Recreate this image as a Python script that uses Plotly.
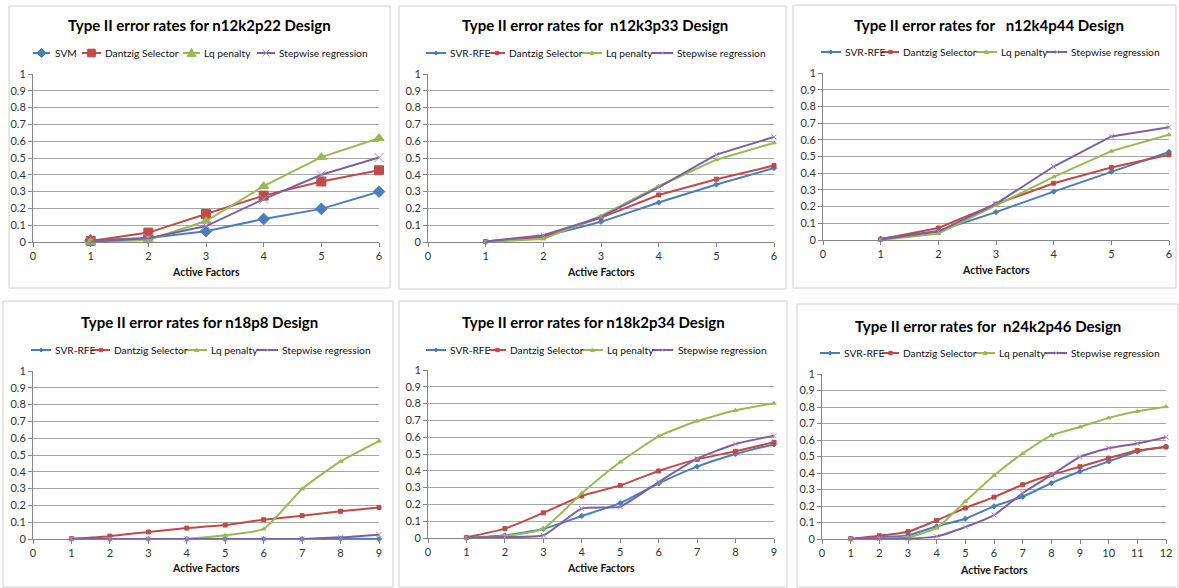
import plotly.graph_objects as go

W, H = 1179, 588
FONT = "Lato, Roboto, sans-serif"

methods_p1 = ["SVM", "Dantzig Selector", "Lq penalty", "Stepwise regression"]
methods = ["SVR-RFE", "Dantzig Selector", "Lq penalty", "Stepwise regression"]
colors = ["#4A7EBB", "#BE4B48", "#98B954", "#7D60A0"]
symbols = ["diamond", "square", "triangle-up", "x-thin"]

titles = [
    "Type II error rates for n12k2p22 Design",
    "Type II error rates for  n12k3p33 Design",
    "Type II error rates for   n12k4p44 Design",
    "Type II error rates for n18p8 Design",
    "Type II error rates for n18k2p34 Design",
    "Type II error rates for  n24k2p46 Design",
]

x6 = [1, 2, 3, 4, 5, 6]
x9 = [1, 2, 3, 4, 5, 6, 7, 8, 9]
x12 = [1, 2, 3, 4, 5, 6, 7, 8, 9, 10, 11, 12]

# Panel 1: n12k2p22
p1_svm = [0.01, 0.024, 0.064, 0.137, 0.197, 0.300]
p1_ds = [0.006, 0.056, 0.167, 0.276, 0.360, 0.427]
p1_lq = [0.0, 0.012, 0.125, 0.332, 0.505, 0.618]
p1_sw = [0.002, 0.022, 0.095, 0.255, 0.400, 0.503]

# Panel 2: n12k3p33
p2_svr = [0.002, 0.032, 0.120, 0.235, 0.342, 0.440]
p2_ds = [0.003, 0.030, 0.145, 0.280, 0.374, 0.455]
p2_lq = [0.0, 0.018, 0.155, 0.332, 0.490, 0.590]
p2_sw = [0.003, 0.040, 0.148, 0.325, 0.520, 0.625]

# Panel 3: n12k4p44
p3_svr = [0.008, 0.054, 0.167, 0.290, 0.408, 0.528]
p3_ds = [0.004, 0.072, 0.215, 0.340, 0.434, 0.510]
p3_lq = [0.0, 0.038, 0.207, 0.378, 0.532, 0.630]
p3_sw = [0.004, 0.050, 0.217, 0.440, 0.620, 0.675]

# Panel 4: n18p8
p4_svr = [0.0, 0.0, 0.0, 0.0, 0.0, 0.0, 0.0, 0.003, 0.0]
p4_ds = [0.002, 0.017, 0.042, 0.065, 0.083, 0.115, 0.139, 0.165, 0.188]
p4_lq = [0.0, 0.0, 0.0, 0.002, 0.022, 0.060, 0.298, 0.462, 0.583]
p4_sw = [0.0, 0.0, 0.0, 0.0, 0.0, 0.0, 0.0, 0.010, 0.026]

# Panel 5: n18k2p34
p5_svr = [0.0, 0.016, 0.054, 0.131, 0.208, 0.325, 0.425, 0.500, 0.557]
p5_ds = [0.004, 0.056, 0.150, 0.250, 0.313, 0.399, 0.468, 0.516, 0.570]
p5_lq = [0.0, 0.012, 0.056, 0.266, 0.452, 0.605, 0.696, 0.760, 0.802]
p5_sw = [0.003, 0.006, 0.016, 0.175, 0.187, 0.333, 0.472, 0.560, 0.609]

# Panel 6: n24k2p46
p6_svr = [0.0, 0.012, 0.022, 0.077, 0.123, 0.198, 0.256, 0.339, 0.409, 0.470, 0.530, 0.560]
p6_ds = [0.002, 0.020, 0.044, 0.113, 0.188, 0.254, 0.329, 0.389, 0.438, 0.490, 0.536, 0.558]
p6_lq = [0.0, 0.003, 0.010, 0.067, 0.228, 0.385, 0.518, 0.627, 0.679, 0.734, 0.774, 0.802]
p6_sw = [0.0, 0.002, 0.003, 0.016, 0.073, 0.145, 0.278, 0.387, 0.498, 0.550, 0.579, 0.617]

panels = [
    (x6, [p1_svm, p1_ds, p1_lq, p1_sw], methods_p1),
    (x6, [p2_svr, p2_ds, p2_lq, p2_sw], methods),
    (x6, [p3_svr, p3_ds, p3_lq, p3_sw], methods),
    (x9, [p4_svr, p4_ds, p4_lq, p4_sw], methods),
    (x9, [p5_svr, p5_ds, p5_lq, p5_sw], methods),
    (x12, [p6_svr, p6_ds, p6_lq, p6_sw], methods),
]

# ---- layout geometry (pixels) ----
plot_px = [
    (33, 379, 74, 242), (428, 774, 74, 242), (823, 1169, 73, 240),
    (33, 379, 371, 539), (428, 774, 370, 538), (822, 1166, 374, 539),
]
border_px = [
    (9, 390, 6, 288), (399, 786, 6, 289), (793, 1176, 5, 288),
    (3, 393, 301, 587), (399, 787, 301, 587), (797, 1178, 304, 587),
]
title_px = [(199, 25), (595, 25), (989, 25), (199, 322), (594, 322), (988, 326)]
xtitle_y = [272, 272, 270, 568, 568, 570]
smooth = [False, False, False, True, True, True]
# legend entries: (key start, key end, text start) per series, and row y
legend_px = [
    [(33, 50, 53), (82, 101, 103), (183, 200, 202), (257, 275, 277)],
    [(426, 446, 448), (489, 505, 507), (582, 602, 604), (652, 673, 675)],
    [(821, 841, 843), (882, 899, 901), (976, 997, 999), (1047, 1067, 1069)],
    [(31, 51, 53), (92, 110, 112), (186, 207, 209), (257, 278, 280)],
    [(426, 446, 448), (489, 506, 508), (582, 603, 605), (652, 673, 676)],
    [(820, 840, 842), (882, 899, 901), (975, 995, 997), (1045, 1067, 1069)],
]
legend_y = [53, 53, 52, 350, 350, 353]


def fx(px):
    return px / W


def fy(py):
    return 1 - py / H


def marker_path(sym, r):
    if sym == "diamond":
        return f"M{-r},0 L0,{r} L{r},0 L0,{-r} Z"
    if sym == "square":
        q = r * 0.85
        return f"M{-q},{-q} L{q},{-q} L{q},{q} L{-q},{q} Z"
    if sym == "triangle-up":
        return f"M{-r},{-r * 0.8} L{r},{-r * 0.8} L0,{r} Z"
    return f"M{-r * 0.8},{-r * 0.8} L{r * 0.8},{r * 0.8} M{-r * 0.8},{r * 0.8} L{r * 0.8},{-r * 0.8}"


fig = go.Figure()
shapes = []
annotations = []
layout = {}
axis_font = dict(family=FONT, size=11, color="#333333")

for i, (xs, series, names) in enumerate(panels):
    k = "" if i == 0 else str(i + 1)
    big = i == 0
    for j in range(4):
        mcol = colors[j] if j != 3 else "#A48FC4"
        fig.add_trace(go.Scatter(
            x=xs, y=series[j], name=names[j],
            xaxis="x" + k, yaxis="y" + k, showlegend=False,
            mode="lines+markers",
            line=dict(color=colors[j], width=2,
                      shape="spline" if smooth[i] else "linear",
                      smoothing=0.5),
            marker=dict(symbol=symbols[j],
                        size=9 if big else (4 if j != 3 else 5),
                        color=mcol, line=dict(color=mcol, width=1)),
            cliponaxis=False,
        ))
    x0, x1, yt, yb = plot_px[i]
    layout["xaxis" + k] = dict(
        domain=[fx(x0), fx(x1)], anchor="y" + k, range=[0, xs[-1]],
        tickmode="linear", tick0=0, dtick=1, showgrid=False,
        showline=True, linecolor="#868686", linewidth=1,
        ticks="outside", ticklen=4, tickcolor="#868686",
        tickfont=axis_font, zeroline=False, fixedrange=True, automargin=False,
    )
    layout["yaxis" + k] = dict(
        domain=[fy(yb), fy(yt)], anchor="x" + k, range=[0, 1],
        tickmode="linear", tick0=0, dtick=0.1,
        showgrid=True, gridcolor="#A6A6A6", gridwidth=1,
        showline=True, linecolor="#868686", linewidth=1,
        ticks="outside", ticklen=4, tickcolor="#868686",
        tickfont=axis_font, zeroline=False, fixedrange=True, automargin=False,
    )
    # panel border
    bx0, bx1, by0, by1 = border_px[i]
    shapes.append(dict(type="rect", xref="paper", yref="paper",
                       x0=fx(bx0), x1=fx(bx1), y0=fy(by1), y1=fy(by0),
                       line=dict(color="#D0D0D0", width=1), layer="below"))
    # legend row (one key line + marker + label per series)
    ly = legend_y[i]
    for j in range(4):
        kx0, kx1, tx = legend_px[i][j]
        mcol = colors[j] if j != 3 else "#A48FC4"
        shapes.append(dict(type="line", xref="paper", yref="paper",
                           x0=fx(kx0), x1=fx(kx1), y0=fy(ly), y1=fy(ly),
                           line=dict(color=colors[j], width=2)))
        r = 4.5 if big else 2
        shapes.append(dict(type="path", xref="paper", yref="paper",
                           xsizemode="pixel", ysizemode="pixel",
                           xanchor=fx((kx0 + kx1) / 2), yanchor=fy(ly),
                           path=marker_path(symbols[j], r),
                           fillcolor=mcol if j != 3 else "rgba(0,0,0,0)",
                           line=dict(color=mcol, width=1)))
        annotations.append(dict(text=names[j], x=fx(tx), y=fy(ly),
                                xref="paper", yref="paper", showarrow=False,
                                xanchor="left", yanchor="middle",
                                font=dict(family=FONT, size=10.2, color="#111111")))
    annotations.append(dict(text="<b>" + titles[i].replace("  ", "&nbsp; ") + "</b>",
                            x=fx(title_px[i][0]), y=fy(title_px[i][1]),
                            xref="paper", yref="paper", showarrow=False,
                            xanchor="center", yanchor="middle",
                            font=dict(family=FONT, size=15, color="#000000")))
    annotations.append(dict(text="<b>Active Factors</b>",
                            x=fx((x0 + x1) / 2), y=fy(xtitle_y[i]),
                            xref="paper", yref="paper", showarrow=False,
                            xanchor="center", yanchor="middle",
                            font=dict(family=FONT, size=10.5, color="#111111")))

fig.update_layout(
    width=W, height=H, margin=dict(l=0, r=0, t=0, b=0),
    paper_bgcolor="white", plot_bgcolor="white",
    showlegend=False, shapes=shapes, annotations=annotations,
    **layout,
)

fig.write_html(
    "out.html",
    config={"displayModeBar": False},
    post_script="document.body.style.margin='0';document.body.style.overflow='hidden';",
)
